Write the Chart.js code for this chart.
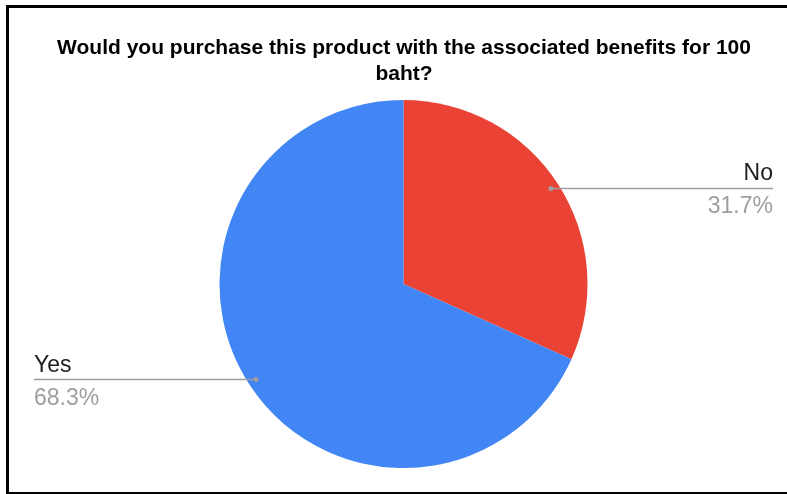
<!DOCTYPE html>
<html>
<head>
<meta charset="utf-8">
<script src="https://cdn.jsdelivr.net/npm/chart.js@4.4.1/dist/chart.umd.min.js"></script>
<style>
  html, body { margin: 0; padding: 0; background: #fff; }
  #wrap { position: relative; width: 787px; height: 494px; overflow: hidden; background: #fff; }
  #frame {
    position: absolute; left: 6px; top: 5px; width: 800px; height: 484px;
    border-left: 3px solid #000; border-top: 3px solid #000; border-bottom: 3px solid #000;
    pointer-events: none;
  }
  canvas { position: absolute; left: 0; top: 0; }
</style>
</head>
<body>
<div id="wrap">
  <canvas id="chart" width="787" height="494"></canvas>
  <div id="frame"></div>
</div>
<script>
// Survey answers and their shares (percent)
const titleLines = ['Would you purchase this product with the associated benefits for 100', 'baht?'];
const answers = ['No', 'Yes'];
const shares = [31.7, 68.3];
const sliceColors = ['#EA4335', '#4285F4'];

const FONT = '"Liberation Sans", Arial, sans-serif';

// Draws the title and the outside labels with their leader lines
const pieLabels = {
  id: 'pieLabels',
  afterDraw(chart) {
    const ctx = chart.ctx;
    const meta = chart.getDatasetMeta(0);
    ctx.save();

    // title
    ctx.fillStyle = '#000';
    ctx.font = 'bold 21px ' + FONT;
    ctx.textAlign = 'center';
    ctx.textBaseline = 'alphabetic';
    ctx.fillText(titleLines[0], 404, 54);
    ctx.fillText(titleLines[1], 404, 80);

    const total = shares.reduce((a, b) => a + b, 0);
    meta.data.forEach((arc, i) => {
      const { x, y, startAngle, endAngle, outerRadius } = arc.getProps(['x', 'y', 'startAngle', 'endAngle', 'outerRadius'], true);
      const mid = (startAngle + endAngle) / 2;
      const r = outerRadius * 0.955;
      const px = x + Math.cos(mid) * r;
      const py = y + Math.sin(mid) * r;
      const right = Math.cos(mid) >= 0;
      const edge = right ? chart.width - 14 : 34;

      ctx.strokeStyle = '#9e9e9e';
      ctx.lineWidth = 1.5;
      ctx.beginPath();
      ctx.moveTo(px, py);
      ctx.lineTo(edge, py);
      ctx.stroke();

      ctx.fillStyle = '#9e9e9e';
      ctx.beginPath();
      ctx.arc(px, py, 2.5, 0, Math.PI * 2);
      ctx.fill();

      ctx.textAlign = right ? 'right' : 'left';
      ctx.font = '23px ' + FONT;
      ctx.fillStyle = '#202020';
      ctx.fillText(chart.data.labels[i], edge, py - 8);
      ctx.fillStyle = '#9e9e9e';
      const pct = (shares[i] / total * 100).toFixed(1) + '%';
      ctx.fillText(pct, edge, py + 25);
    });
    ctx.restore();
  }
};

new Chart(document.getElementById('chart'), {
  type: 'pie',
  data: {
    labels: answers,
    datasets: [{
      data: shares,
      backgroundColor: sliceColors,
      borderWidth: 0
    }]
  },
  options: {
    responsive: false,
    animation: false,
    layout: { padding: { left: 219, right: 199, top: 100, bottom: 26 } },
    plugins: {
      legend: { display: false },
      tooltip: { enabled: false },
      title: { display: false }
    }
  },
  plugins: [pieLabels]
});
</script>
</body>
</html>
